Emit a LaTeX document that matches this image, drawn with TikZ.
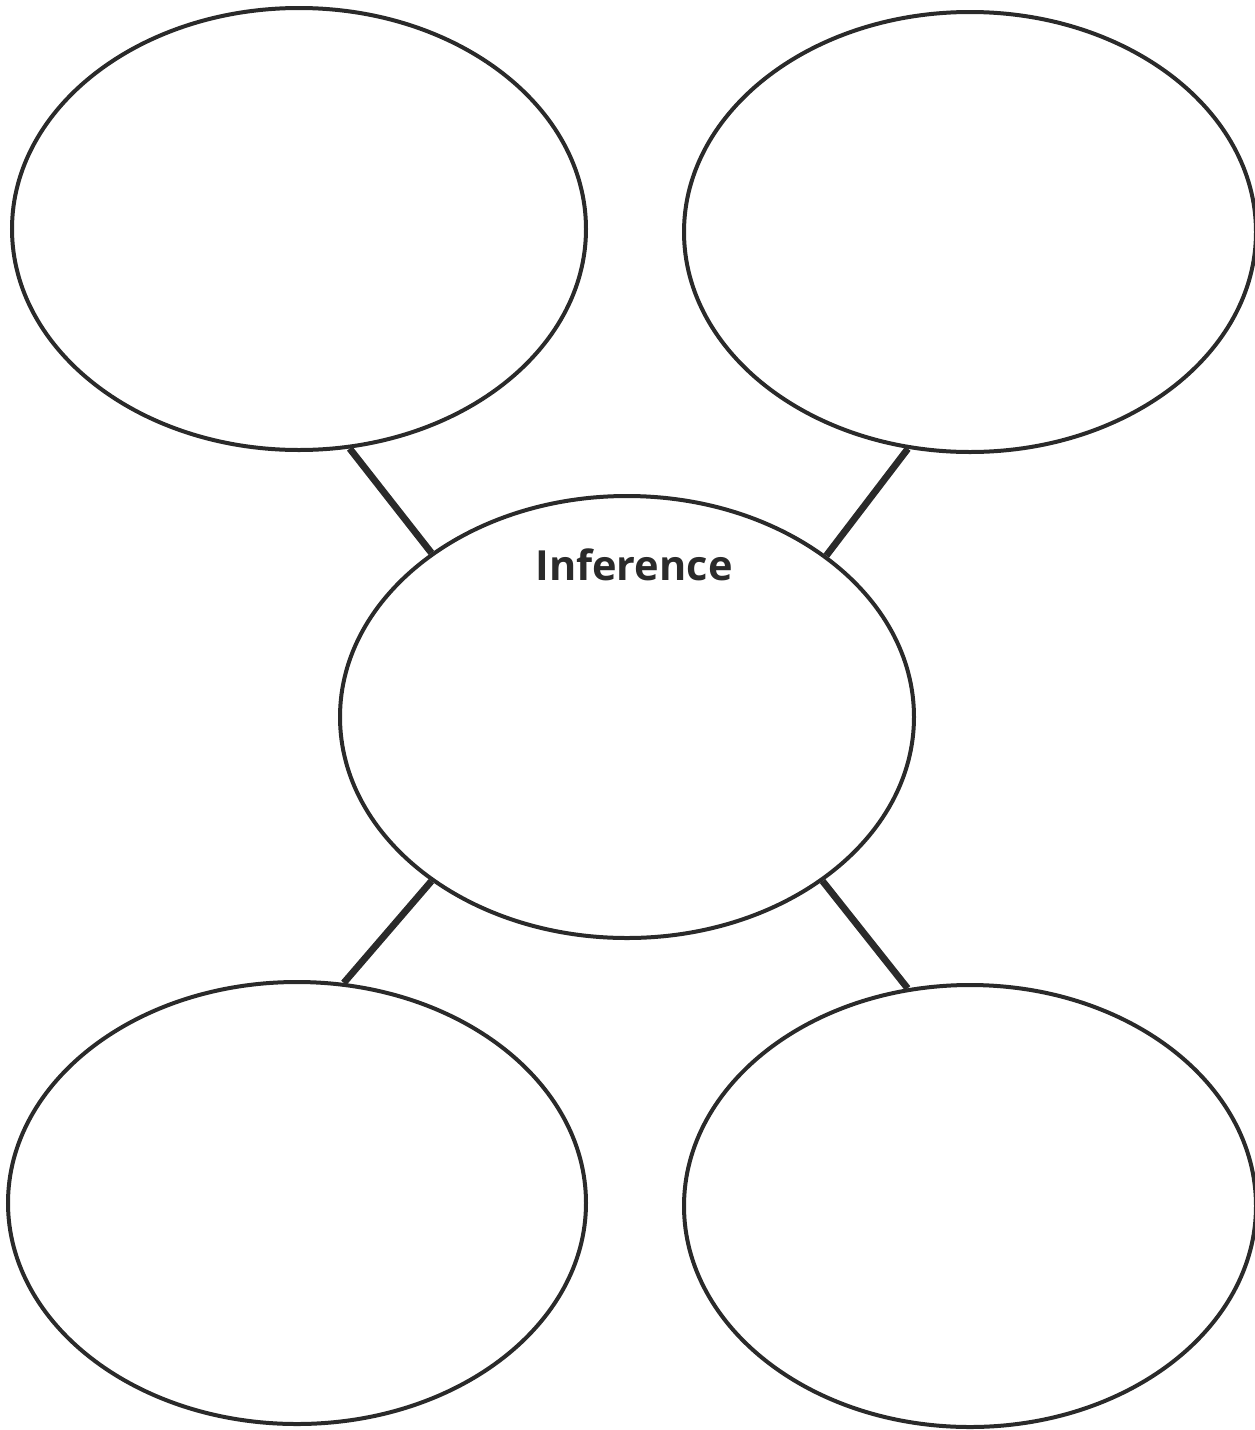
\documentclass[tikz,border=0pt]{standalone}
\usepackage{fontspec}
\setsansfont{Open Sans}
\usetikzlibrary{shapes.geometric}
\definecolor{ink}{HTML}{2A2A2A}
\tikzset{
  bubble/.style={ellipse, draw=ink, line width=4pt, inner sep=0pt, minimum width=#1},
  link/.style={draw=ink, line width=6.8pt, line cap=butt},
}
\begin{document}
\begin{tikzpicture}[x=1pt,y=-1pt]
\useasboundingbox (0,0) rectangle (1254,1430);
\node[bubble=574pt, minimum height=442pt] (tl) at (299,229) {};
\node[bubble=572pt, minimum height=440pt] (tr) at (970,232) {};
\node[bubble=574pt, minimum height=442pt] (c) at (627,717) {};
\node[bubble=578pt, minimum height=442pt] (bl) at (297,1203) {};
\node[bubble=572pt, minimum height=442pt] (br) at (970,1206) {};
\node[font=\sffamily\bfseries\fontsize{41.5}{48}\selectfont, text=ink] (lbl) at (634,565) {Inference};
\draw[link] (tl.-77) -- (c.140);
\draw[link] (tr.-106) -- (c.39);
\draw[link] (bl.78) -- (c.-140);
\draw[link] (br.106) -- (c.-40);
\end{tikzpicture}
\end{document}
